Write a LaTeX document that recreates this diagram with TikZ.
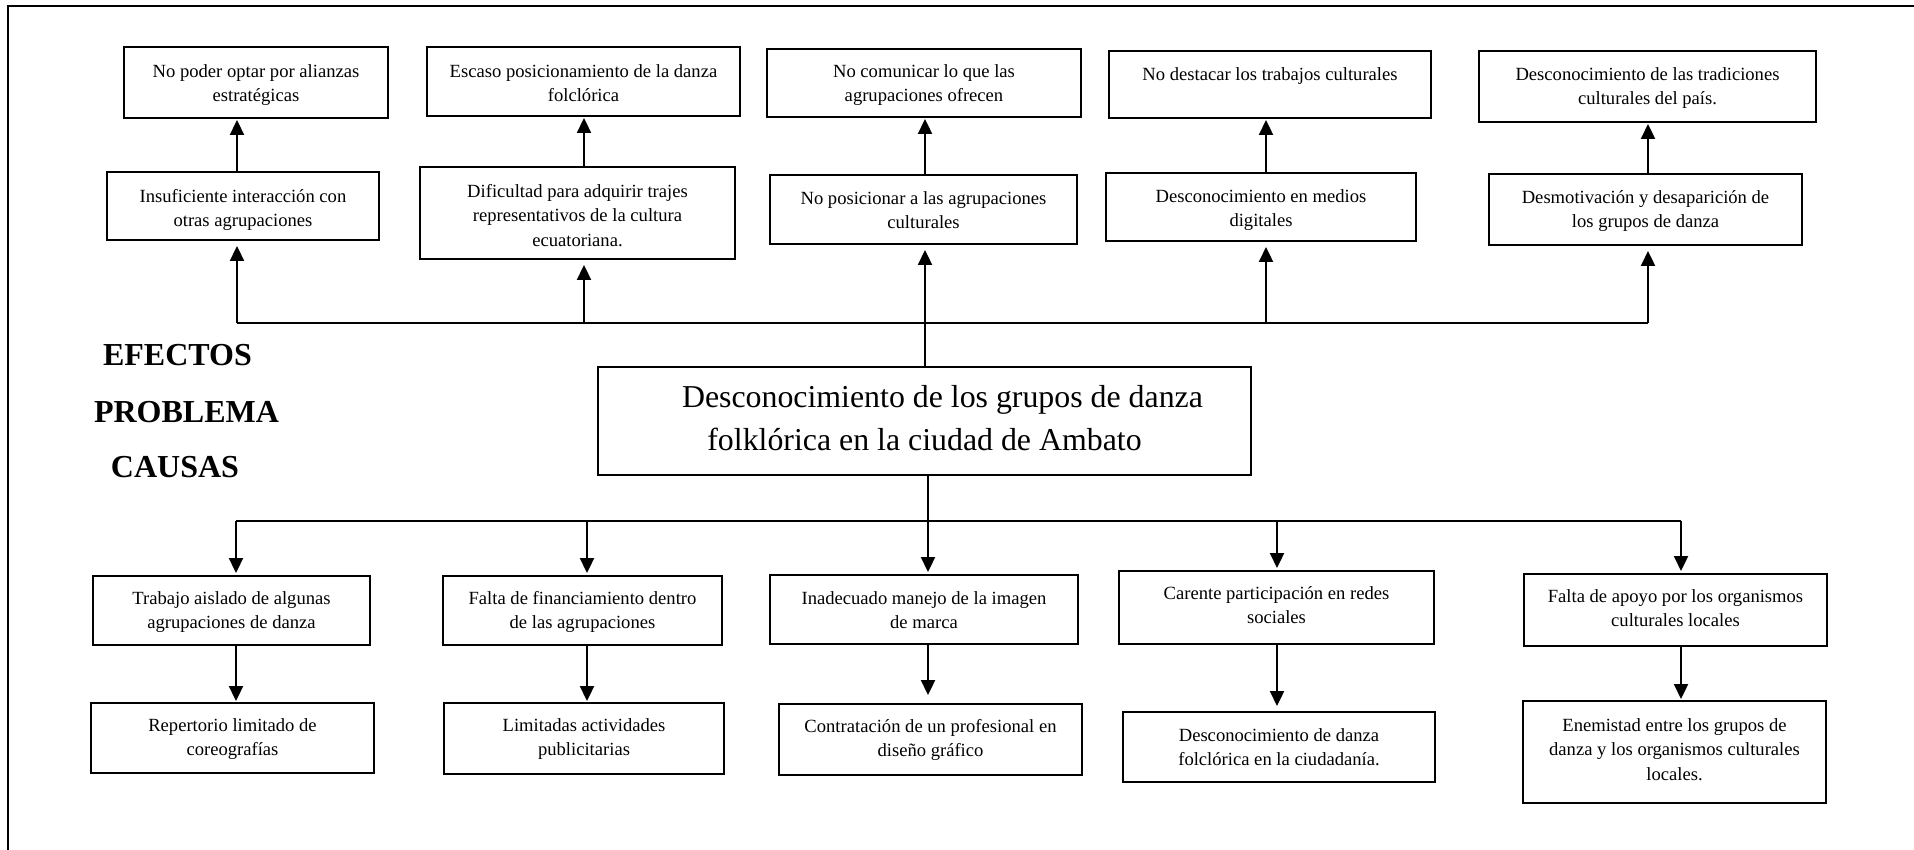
\documentclass[tikz,border=0pt]{standalone}
\usepackage{fontspec}
\setmainfont{Liberation Serif}
\usetikzlibrary{arrows.meta}
\tikzset{
  boxst/.style={draw=black, line width=2pt, rectangle, inner sep=0pt, fill=white},
  txtst/.style={anchor=north, inner sep=0pt, align=center, font=\fontsize{18.6}{24.5}\selectfont},
  probtxt/.style={anchor=north, inner sep=0pt, align=center, font=\fontsize{31.85}{43}\selectfont},
  lbl/.style={anchor=base, inner sep=0pt, font=\fontsize{32}{38}\selectfont\bfseries},
  conn/.style={line width=2.3pt, draw=black},
  arr/.style={conn, -{Triangle[length=15pt,width=14pt]}},
  frame/.style={line width=2pt, draw=black}
}
% name, x1, y1, x2, y2, first baseline, text
\newcommand\mkbox[7]{%
  \node[boxst, minimum width={#4pt-#2pt}, minimum height={#5pt-#3pt}] (#1) at ({(#2+#4)/2},{(#3+#5)/2}) {};
  \node[txtst] (#1t) at ({(#2+#4)/2},{#6-17.15}) {\strut#7};
}
\begin{document}
\begin{tikzpicture}[x=1pt,y=-1pt]
\useasboundingbox (0,0) rectangle (1914,850);
\draw[frame] (1914,6) -- (8,6) -- (8,850);

% effects
\mkbox{e1top}{124}{47}{388}{118}{77}{No poder optar por alianzas\\estratégicas}
\mkbox{e2top}{427}{47}{740}{116}{77}{Escaso posicionamiento de la danza\\folclórica}
\mkbox{e3top}{767}{49}{1081}{117}{77}{No comunicar lo que las\\agrupaciones ofrecen}
\mkbox{e4top}{1109}{51}{1431}{118}{80}{No destacar los trabajos culturales}
\mkbox{e5top}{1479}{51}{1816}{122}{80}{Desconocimiento de las tradiciones\\culturales del país.}
\mkbox{e1}{107}{172}{379}{240}{202}{Insuficiente interacción con\\otras agrupaciones}
\mkbox{e2}{420}{167}{735}{259}{197}{Dificultad para adquirir trajes\\representativos de la cultura\\ecuatoriana.}
\mkbox{e3}{770}{175}{1077}{244}{204}{No posicionar a las agrupaciones\\culturales}
\mkbox{e4}{1106}{173}{1416}{241}{202}{Desconocimiento en medios\\digitales}
\mkbox{e5}{1489}{174}{1802}{245}{203}{Desmotivación y desaparición de\\los grupos de danza}

% problem
\node[boxst, minimum width=653pt, minimum height=108pt] (prob) at (924.5,421) {};
\node[probtxt] (probt) at (924.5,376.9) {\strut\hspace*{36pt}Desconocimiento de los grupos de danza\\folklórica en la ciudad de Ambato};

% labels
\node[lbl] (lef) at (177.5,365) {EFECTOS};
\node[lbl] (lpr) at (186.5,422) {PROBLEMA};
\node[lbl] (lca) at (175,477) {CAUSAS};

% causes
\mkbox{c1}{93}{576}{370}{645}{604}{Trabajo aislado de algunas\\agrupaciones de danza}
\mkbox{c2}{443}{576}{722}{645}{604}{Falta de financiamiento dentro\\de las agrupaciones}
\mkbox{c3}{770}{575}{1078}{644}{604}{Inadecuado manejo de la imagen\\de marca}
\mkbox{c4}{1119}{571}{1434}{644}{599}{Carente participación en redes\\sociales}
\mkbox{c5}{1524}{574}{1827}{646}{602}{Falta de apoyo por los organismos\\culturales locales}
\mkbox{c1b}{91}{703}{374}{773}{731}{Repertorio limitado de\\coreografías}
\mkbox{c2b}{444}{703}{724}{774}{731}{Limitadas actividades\\publicitarias}
\mkbox{c3b}{779}{704}{1082}{775}{732}{Contratación de un profesional en\\diseño gráfico}
\mkbox{c4b}{1123}{712}{1435}{782}{741}{Desconocimiento de danza\\folclórica en la ciudadanía.}
\mkbox{c5b}{1523}{701}{1826}{803}{731}{Enemistad entre los grupos de\\danza y los organismos culturales\\locales.}

% bus coordinates
\coordinate (eb1) at (237,323);
\coordinate (eb2) at (584,323);
\coordinate (eb3) at (925,323);
\coordinate (eb4) at (1266,323);
\coordinate (eb5) at (1648,323);
\coordinate (cb1) at (236,521);
\coordinate (cb2) at (587,521);
\coordinate (cb3) at (928,521);
\coordinate (cb4) at (1277,521);
\coordinate (cb5) at (1681,521);

% effects connectors
\draw[conn] (eb1) -- (eb5);
\draw[conn] (prob.north -| eb3) -- (eb3);
\foreach \i in {1,...,5}{
  \draw[arr, shorten >=5pt] (eb\i) -- (eb\i |- e\i.south);
  \draw[arr, shorten >=1pt] (eb\i |- e\i.north) -- (eb\i |- e\i top.south);
}

% causes connectors
\draw[conn] (cb1) -- (cb5);
\draw[conn] (prob.south -| cb3) -- (cb3);
\foreach \i in {1,...,5}{
  \draw[arr, shorten >=2pt] (cb\i) -- (cb\i |- c\i.north);
}
\draw[arr, shorten >=1pt] (cb1 |- c1.south) -- (cb1 |- c1b.north);
\draw[arr, shorten >=1pt] (cb2 |- c2.south) -- (cb2 |- c2b.north);
\draw[arr, shorten >=8pt] (cb3 |- c3.south) -- (cb3 |- c3b.north);
\draw[arr, shorten >=5pt] (cb4 |- c4.south) -- (cb4 |- c4b.north);
\draw[arr, shorten >=1pt] (cb5 |- c5.south) -- (cb5 |- c5b.north);
\end{tikzpicture}
\end{document}
